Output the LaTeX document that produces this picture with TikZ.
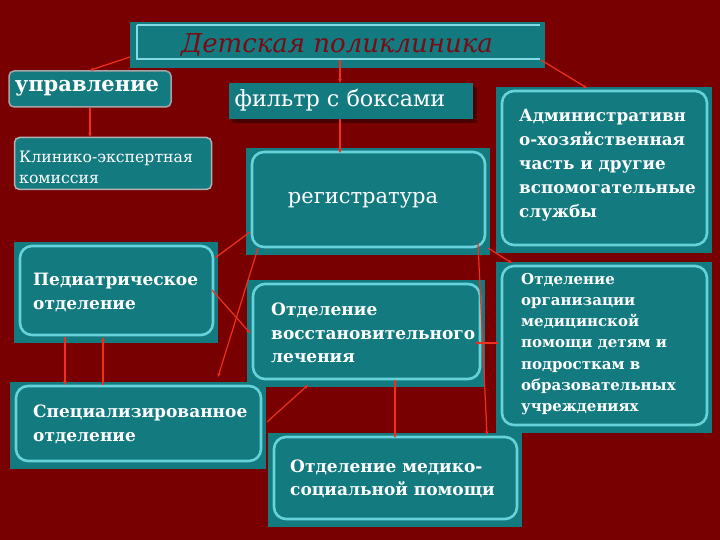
\documentclass[tikz,border=0pt]{standalone}
\usepackage{fontspec}
\setmainfont{DejaVu Serif}
\usetikzlibrary{arrows.meta,calc}
\definecolor{bg}{HTML}{780000}
\definecolor{boxteal}{HTML}{137A80}
\definecolor{frame}{HTML}{66D2DA}
\definecolor{linkred}{HTML}{F0301E}
\definecolor{titlered}{HTML}{7A0A14}
\tikzset{
  outerbox/.style={rectangle,fill=boxteal,draw=none,inner sep=0pt,outer sep=0pt},
  innerframe/.style={draw=frame,line width=2.6pt,fill=boxteal,rounded corners=12pt},
  txt/.style={text=white,align=left,inner sep=0pt,anchor=west},
  link/.style={draw=linkred,line width=1.2pt,-{Stealth[length=4pt,width=3.5pt]}},
}
\newcommand\tealbox[5]{%
  \node[outerbox,minimum width={(#4-#2)*1pt},minimum height={(#5-#3)*1pt}] (#1) at ({(#2+#4)/2},{(#3+#5)/2}) {};
}
\newcommand\framein[1]{%
  \draw[innerframe] ([shift={(6,4)}]#1.north west) rectangle ([shift={(-5,-8)}]#1.south east);
}
\begin{document}
\begin{tikzpicture}[x=1pt,y=-1pt]
\fill[bg] (0,0) rectangle (720,540);
\useasboundingbox (0,0) rectangle (720,540);

% title
\tealbox{title}{130}{22}{545}{68}
\draw[frame!80!white,line width=1.2pt] (137,25) -- (540,25) (137,25) -- (137,59) -- (540,59);
\node[text=titlered,font=\itshape\fontsize{26}{30}\selectfont,inner sep=0pt] (titletext) at (337,45) {Детская поликлиника};

% управление
\node[rectangle,rounded corners=5pt,fill=boxteal,draw=gray!70,line width=1.5pt,minimum width=162pt,minimum height=36pt,inner sep=0pt] (upr) at (90,89) {};
\node[txt,anchor=center,font=\bfseries\fontsize{21}{24}\selectfont] (uprtext) at (87,88) {управление};

% фильтр
\fill[black,opacity=0.4] (232,87) rectangle (477,123);
\tealbox{filtr}{229}{83}{473}{119}
\node[txt,anchor=center,font=\fontsize{22.3}{24}\selectfont] (filtrtext) at (340,100) {фильтр с боксами};

% Клинико
\node[rectangle,rounded corners=5pt,fill=boxteal,draw=gray!60,line width=1.5pt,minimum width=197pt,minimum height=52pt,inner sep=0pt] (klin) at (113,163.5) {};
\node[txt,font=\fontsize{15.7}{21}\selectfont] (klintext) at (19,167) {Клинико-экспертная\\комиссия};

% регистратура
\tealbox{reg}{246}{148}{490}{255}
\framein{reg}
\node[txt,anchor=center,font=\fontsize{21}{24}\selectfont] (regtext) at (363,200) {регистратура};

% Административно
\tealbox{adm}{496}{87}{712}{253}
\framein{adm}
\node[txt,font=\bfseries\fontsize{16.8}{24}\selectfont] (admtext) at (519,165) {Административн\\о-хозяйственная\\часть и другие\\вспомогательные\\службы};

% Педиатрическое
\tealbox{ped}{14}{242}{218}{343}
\framein{ped}
\node[txt,font=\bfseries\fontsize{17}{24}\selectfont] (pedtext) at (33,292) {Педиатрическое\\отделение};

% Восстановительного
\tealbox{vos}{247}{280}{485}{387}
\framein{vos}
\node[txt,font=\bfseries\fontsize{17}{23.5}\selectfont] (vostext) at (271,333) {Отделение\\восстановительного\\лечения};

% Организации
\tealbox{org}{496}{262}{712}{433}
\framein{org}
\node[txt,font=\bfseries\fontsize{15}{21.3}\selectfont] (orgtext) at (521,344) {Отделение\\организации\\медицинской\\помощи детям и\\подросткам в\\образовательных\\учреждениях};

% Специализированное
\tealbox{spec}{10}{382}{266}{469}
\framein{spec}
\node[txt,font=\bfseries\fontsize{17}{24}\selectfont] (spectext) at (33,424) {Специализированное\\отделение};

% Медико-социальной
\tealbox{med}{268}{433}{522}{527}
\framein{med}
\node[txt,font=\bfseries\fontsize{17}{23}\selectfont] (medtext) at (290,479) {Отделение медико-\\социальной помощи};

% connectors
\draw[link] ([shift={(0,-11)}]title.south west) -- (upr.north);
\draw[link] ([shift={(2.5,-8)}]title.south) -- ([shift={(-11,0)}]filtr.north);
\draw[link] ([shift={(-4,-8)}]title.south east) -- ([shift={(-17,1)}]adm.north);
\draw[link] (upr.south) -- (upr.south |- klin.north);
\draw[link] ([shift={(-11,0)}]filtr.south) -- ([shift={(-28,5)}]reg.north);
\draw[link] ([shift={(4,-23)}]reg.south west) -- ([shift={(-3,16)}]ped.north east);
\draw[link] ([shift={(12,-7)}]reg.south west) -- ([shift={(208,-5)}]spec.north west);
\draw[link] ([shift={(-6,48)}]ped.north east) -- ([shift={(3,53)}]vos.north west);
\draw[link] ([shift={(51,-6)}]ped.south west) -- ([shift={(55,3)}]spec.north west);
\draw[link] ([shift={(93,3)}]spec.north west) -- ([shift={(89,-6)}]ped.south west);
\draw[link] ([shift={(1,-47)}]spec.south east) -- ([shift={(61,-2)}]vos.south west);
\draw[link] ([shift={(148,-7)}]vos.south west) -- ([shift={(127,5)}]med.north west);
\draw[link] ([shift={(-2,-7)}]reg.south east) -- ([shift={(16,1)}]org.north west);
\draw[link] ([shift={(-12,-12)}]reg.south east) -- ([shift={(-35,2)}]med.north east);
\draw[link] ([shift={(2,-4.5)}]org.west) -- ([shift={(-10,-44)}]vos.south east);
\end{tikzpicture}
\end{document}
